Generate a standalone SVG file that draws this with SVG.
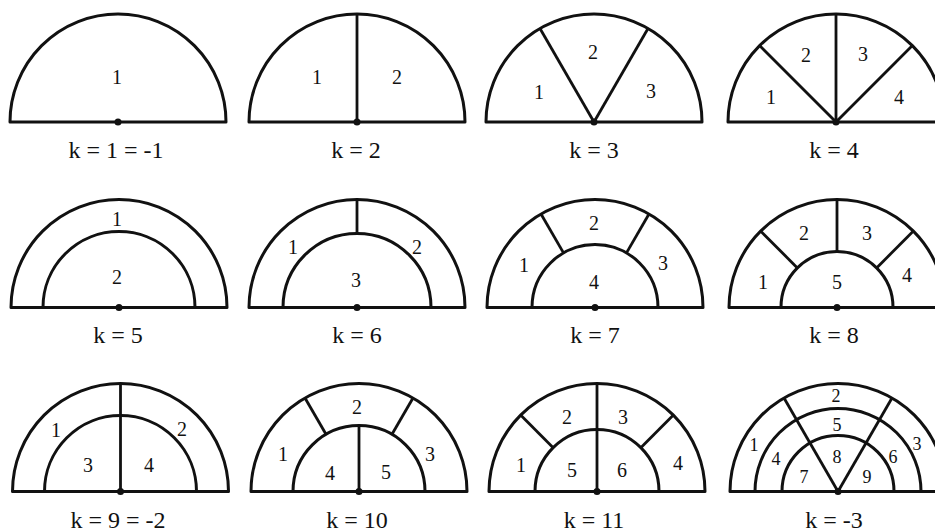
<svg xmlns="http://www.w3.org/2000/svg" width="935" height="532" viewBox="0 0 935 532">
<style>
.ln{fill:none;stroke:#111;stroke-width:3;stroke-linejoin:round}
.rl{fill:none;stroke:#111;stroke-width:2.8}
.dot{fill:#111}
text{font-family:"Liberation Serif","DejaVu Serif","Times New Roman",serif;fill:#111;text-anchor:middle}
.n{font-size:20px}
.s{font-size:18px}
.lb{font-size:24px}
</style>
<rect width="935" height="532" fill="#fff"/>

<g id="k1">
<path class="ln" d="M10 122 A108 108 0 0 1 226 122 Z"/>
<circle class="dot" cx="118" cy="122" r="3.5"/>
<text class="n" x="117" y="84">1</text>
<text class="lb" x="116" y="158">k = 1 = -1</text>
</g>

<g id="k2">
<path class="ln" d="M249 122 A108 108 0 0 1 465 122 Z"/>
<line class="rl" x1="357" y1="122" x2="357" y2="14"/>
<circle class="dot" cx="357" cy="122" r="3.5"/>
<text class="n" x="317" y="84">1</text>
<text class="n" x="397" y="84">2</text>
<text class="lb" x="356" y="158">k = 2</text>
</g>

<g id="k3">
<path class="ln" d="M486 122 A108 108 0 0 1 702 122 Z"/>
<line class="rl" x1="594" y1="122" x2="540" y2="28.5"/>
<line class="rl" x1="594" y1="122" x2="648" y2="28.5"/>
<circle class="dot" cx="594" cy="122" r="3.5"/>
<text class="n" x="539" y="99">1</text>
<text class="n" x="593" y="59">2</text>
<text class="n" x="651" y="98">3</text>
<text class="lb" x="594" y="158">k = 3</text>
</g>

<g id="k4">
<path class="ln" d="M728 122 A108 108 0 0 1 944 122 Z"/>
<line class="rl" x1="836" y1="122" x2="759.6" y2="45.6"/>
<line class="rl" x1="836" y1="122" x2="836" y2="14"/>
<line class="rl" x1="836" y1="122" x2="912.4" y2="45.6"/>
<circle class="dot" cx="836" cy="122" r="3.5"/>
<text class="n" x="771" y="104">1</text>
<text class="n" x="806" y="62">2</text>
<text class="n" x="863" y="61">3</text>
<text class="n" x="899" y="104">4</text>
<text class="lb" x="834" y="158">k = 4</text>
</g>

<g id="k5">
<path class="ln" d="M11 307.5 A108 108 0 0 1 227 307.5 Z"/>
<path class="ln" d="M43 307.5 A76 76 0 0 1 195 307.5"/>
<circle class="dot" cx="119" cy="307.5" r="3.5"/>
<text class="n" x="117" y="226">1</text>
<text class="n" x="117" y="284">2</text>
<text class="lb" x="118" y="343">k = 5</text>
</g>

<g id="k6">
<path class="ln" d="M249 307.5 A108 108 0 0 1 465 307.5 Z"/>
<path class="ln" d="M283 307.5 A74 74 0 0 1 431 307.5"/>
<line class="rl" x1="357" y1="233.5" x2="357" y2="199.5"/>
<circle class="dot" cx="357" cy="307.5" r="3.5"/>
<text class="n" x="293" y="254">1</text>
<text class="n" x="417" y="254">2</text>
<text class="n" x="356" y="287">3</text>
<text class="lb" x="357" y="343">k = 6</text>
</g>

<g id="k7">
<path class="ln" d="M487 307.5 A108 108 0 0 1 703 307.5 Z"/>
<path class="ln" d="M532 307.5 A63 63 0 0 1 658 307.5"/>
<line class="rl" x1="563.5" y1="252.9" x2="541" y2="214"/>
<line class="rl" x1="626.5" y1="252.9" x2="649" y2="214"/>
<circle class="dot" cx="595" cy="307.5" r="3.5"/>
<text class="n" x="524" y="272">1</text>
<text class="n" x="594" y="230">2</text>
<text class="n" x="663" y="270">3</text>
<text class="n" x="594" y="289">4</text>
<text class="lb" x="595" y="343">k = 7</text>
</g>

<g id="k8">
<path class="ln" d="M729 307.5 A108 108 0 0 1 945 307.5 Z"/>
<path class="ln" d="M781 307.5 A56 56 0 0 1 893 307.5"/>
<line class="rl" x1="797.4" y1="267.9" x2="760.6" y2="231.1"/>
<line class="rl" x1="837" y1="251.5" x2="837" y2="199.5"/>
<line class="rl" x1="876.6" y1="267.9" x2="913.4" y2="231.1"/>
<circle class="dot" cx="837" cy="307.5" r="3.5"/>
<text class="n" x="763" y="289">1</text>
<text class="n" x="804" y="240">2</text>
<text class="n" x="867" y="240">3</text>
<text class="n" x="907" y="282">4</text>
<text class="n" x="837" y="289">5</text>
<text class="lb" x="834" y="343">k = 8</text>
</g>

<g id="k9">
<path class="ln" d="M12.5 491.5 A108 108 0 0 1 228.5 491.5 Z"/>
<path class="ln" d="M44.5 491.5 A76 76 0 0 1 196.5 491.5"/>
<line class="rl" x1="120.5" y1="491.5" x2="120.5" y2="383.5"/>
<circle class="dot" cx="120.5" cy="491.5" r="3.5"/>
<text class="n" x="56" y="437">1</text>
<text class="n" x="182" y="436">2</text>
<text class="n" x="88" y="472">3</text>
<text class="n" x="149" y="472">4</text>
<text class="lb" x="118" y="528">k = 9 = -2</text>
</g>

<g id="k10">
<path class="ln" d="M251 491.5 A108 108 0 0 1 467 491.5 Z"/>
<path class="ln" d="M293 491.5 A66 66 0 0 1 425 491.5"/>
<line class="rl" x1="326" y1="434.3" x2="305" y2="398"/>
<line class="rl" x1="392" y1="434.3" x2="413" y2="398"/>
<line class="rl" x1="359" y1="491.5" x2="359" y2="425.5"/>
<circle class="dot" cx="359" cy="491.5" r="3.5"/>
<text class="n" x="283" y="461">1</text>
<text class="n" x="357" y="414">2</text>
<text class="n" x="430" y="461">3</text>
<text class="n" x="330" y="480">4</text>
<text class="n" x="386" y="479">5</text>
<text class="lb" x="357" y="528">k = 10</text>
</g>

<g id="k11">
<path class="ln" d="M489 491.5 A108 108 0 0 1 705 491.5 Z"/>
<path class="ln" d="M535 491.5 A62 62 0 0 1 659 491.5"/>
<line class="rl" x1="553.2" y1="447.7" x2="520.6" y2="415.1"/>
<line class="rl" x1="640.8" y1="447.7" x2="673.4" y2="415.1"/>
<line class="rl" x1="597" y1="491.5" x2="597" y2="383.5"/>
<circle class="dot" cx="597" cy="491.5" r="3.5"/>
<text class="n" x="521" y="472">1</text>
<text class="n" x="567" y="424">2</text>
<text class="n" x="623" y="424">3</text>
<text class="n" x="678" y="470">4</text>
<text class="n" x="572" y="477">5</text>
<text class="n" x="622" y="477">6</text>
<text class="lb" x="594" y="528">k = 11</text>
</g>

<g id="k-3">
<path class="ln" d="M730 491.5 A108 108 0 0 1 946 491.5 Z"/>
<path class="ln" d="M755 491.5 A83 83 0 0 1 921 491.5"/>
<path class="ln" d="M782 491.5 A56 56 0 0 1 894 491.5"/>
<line class="rl" x1="838" y1="491.5" x2="784" y2="398"/>
<line class="rl" x1="838" y1="491.5" x2="892" y2="398"/>
<circle class="dot" cx="838" cy="491.5" r="3.5"/>
<text class="s" x="754" y="451">1</text>
<text class="s" x="836" y="402">2</text>
<text class="s" x="917" y="450">3</text>
<text class="s" x="776" y="465">4</text>
<text class="s" x="837" y="431">5</text>
<text class="s" x="893" y="463">6</text>
<text class="s" x="804" y="483">7</text>
<text class="s" x="837" y="463">8</text>
<text class="s" x="867" y="483">9</text>
<text class="lb" x="834" y="528">k = -3</text>
</g>
</svg>
